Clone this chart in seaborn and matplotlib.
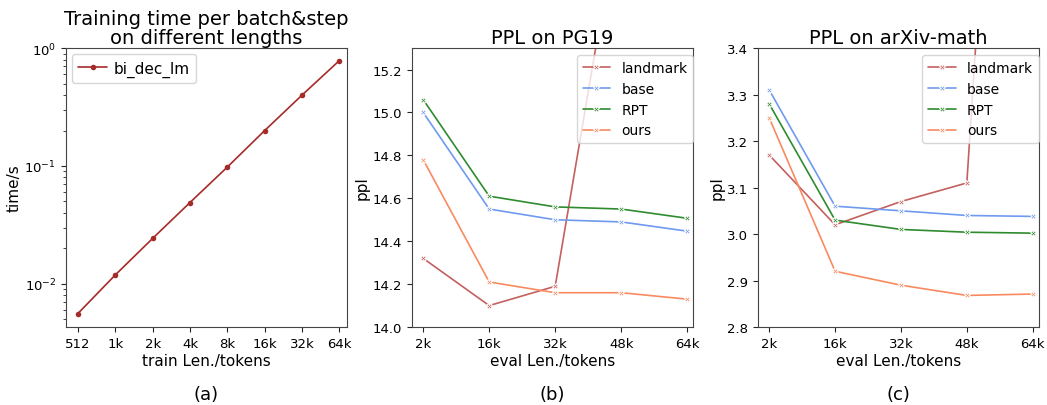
import matplotlib
matplotlib.use("Agg")
import matplotlib.pyplot as plt
import seaborn as sns
import pandas as pd
import numpy as np

sns.set_style("ticks")
plt.rcParams["font.family"] = ["DejaVu Sans"]
plt.rcParams["text.color"] = "black"
plt.rcParams["axes.labelcolor"] = "black"
plt.rcParams["xtick.labelcolor"] = "black"
plt.rcParams["ytick.labelcolor"] = "black"

# (a) training time
train_lens = ["512", "1k", "2k", "4k", "8k", "16k", "32k", "64k"]
train_time = [0.0056, 0.0119, 0.0243, 0.049, 0.098, 0.20, 0.40, 0.785]

# (b) / (c) eval ppl
eval_lens = ["2k", "16k", "32k", "48k", "64k"]
models = ["landmark", "base", "RPT", "ours"]

pg19_landmark = [14.32, 14.10, 14.19, 16.0, 18.0]
pg19_base = [15.00, 14.55, 14.50, 14.49, 14.447]
pg19_rpt = [15.06, 14.61, 14.56, 14.55, 14.507]
pg19_ours = [14.78, 14.21, 14.16, 14.16, 14.13]

arxiv_landmark = [3.17, 3.02, 3.07, 3.11, 5.3]
arxiv_base = [3.31, 3.06, 3.05, 3.04, 3.038]
arxiv_rpt = [3.28, 3.03, 3.01, 3.004, 3.002]
arxiv_ours = [3.25, 2.92, 2.89, 2.868, 2.871]

colors = {"landmark": "#c4605e", "base": "#6f9aef", "RPT": "#2e8b2e", "ours": "#f98a60"}


def long_df(series):
    rows = []
    for name, vals in zip(models, series):
        for i, v in enumerate(vals):
            rows.append({"pos": i, "ppl": v, "model": name})
    return pd.DataFrame(rows)


fig = plt.figure(figsize=(10.47, 4.06), dpi=100)
ax1 = fig.add_axes([0.063, 0.192, 0.268, 0.687])
ax2 = fig.add_axes([0.3935, 0.192, 0.2685, 0.687])
ax3 = fig.add_axes([0.724, 0.192, 0.268, 0.687])

# Plot (a)
df_a = pd.DataFrame({"pos": range(len(train_lens)), "time": train_time})
sns.lineplot(data=df_a, x="pos", y="time", ax=ax1, color="#a52a2a", marker="o",
             markersize=4, markeredgewidth=0, linewidth=1.2, label="bi_dec_lm")
ax1.set_yscale("log")
ax1.set_ylim(0.0043, 1.0)
ax1.set_xlim(-0.32, len(train_lens) - 0.81)
ax1.set_xticks(range(len(train_lens)), train_lens)
ax1.set_xlabel("train Len./tokens", fontsize=11, labelpad=2)
ax1.set_ylabel("time/s", fontsize=11, labelpad=2)
ax1.set_title("Training time per batch&step\non different lengths", fontsize=14, linespacing=0.95, pad=4)
ax1.legend(loc="upper left", fontsize=11, borderaxespad=0.4,
           handlelength=1.9, handletextpad=0.4)

# Plot (b) and (c)
panels = [
    (ax2, [pg19_landmark, pg19_base, pg19_rpt, pg19_ours], (14.0, 15.3), "PPL on PG19"),
    (ax3, [arxiv_landmark, arxiv_base, arxiv_rpt, arxiv_ours], (2.8, 3.4), "PPL on arXiv-math"),
]
for ax, series, ylim, title in panels:
    df = long_df(series)
    sns.lineplot(data=df, x="pos", y="ppl", hue="model", palette=colors, ax=ax,
                 marker="X", markersize=4, linewidth=1.2)
    ax.set_ylim(*ylim)
    ax.set_xlim(-0.17, len(eval_lens) - 0.91)
    ax.set_xticks(range(len(eval_lens)), eval_lens)
    ax.set_xlabel("eval Len./tokens", fontsize=11, labelpad=2)
    ax.set_ylabel("ppl", fontsize=11, labelpad=2)
    ax.set_title(title, fontsize=14, pad=4)
    ax.legend(loc="upper right", fontsize=10, title=None,
              bbox_to_anchor=(1.0, 0.975), borderaxespad=0)

ax2.set_yticks(np.arange(14.0, 15.21, 0.2))
ax3.set_yticks(np.arange(2.8, 3.41, 0.1))

for ax in [ax1, ax2, ax3]:
    ax.tick_params(labelsize=9.5)
    for s in ax.spines.values():
        s.set_color("#444444")

for ax, tag in zip([ax1, ax2, ax3], ["(a)", "(b)", "(c)"]):
    bb = ax.get_position()
    fig.text((bb.x0 + bb.x1) / 2, 0.028, tag, ha="center", va="center", fontsize=13)

fig.savefig("out.png", dpi=100)
